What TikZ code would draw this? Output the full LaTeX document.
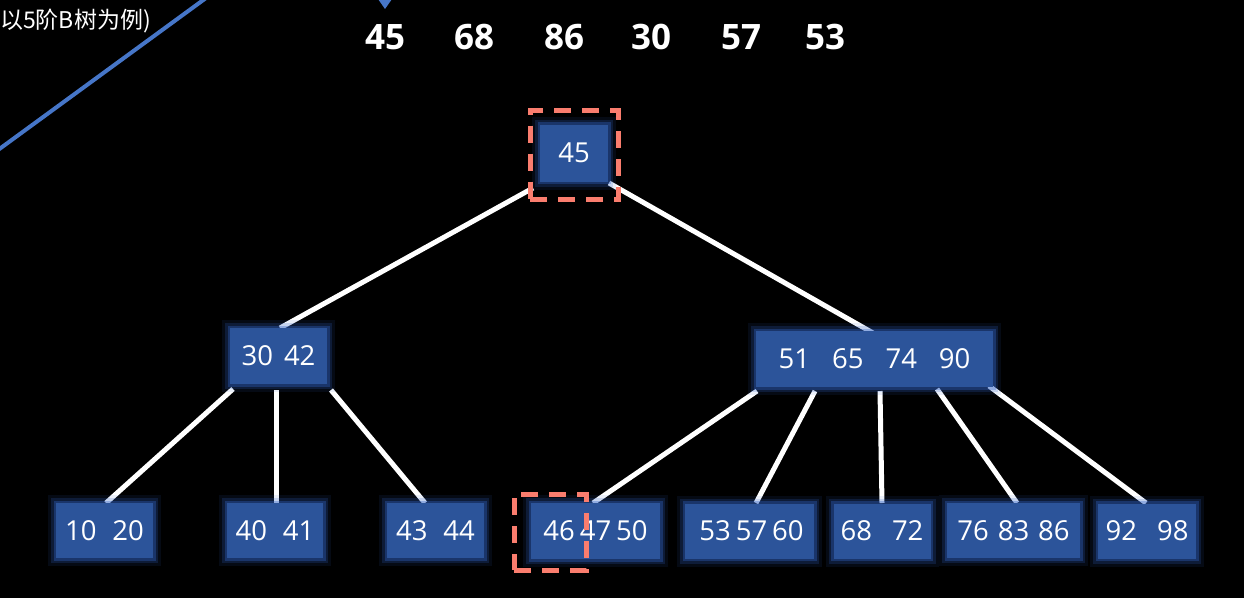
\documentclass[tikz,border=0pt]{standalone}
\usepackage{fontspec}
\setmainfont{Open Sans}
\newfontfamily\cjk{Noto Sans CJK SC}
\usetikzlibrary{calc}
\definecolor{keyfill}{RGB}{44,84,154}
\definecolor{halo}{RGB}{50,100,200}
\definecolor{mark}{RGB}{250,125,110}
\definecolor{rule}{RGB}{70,118,200}
\tikzset{
  keybox/.style={fill=keyfill, text=white, inner sep=0pt, anchor=center,
    font=\fontsize{27.5}{30}\selectfont,
    preaction={draw=halo, line width=16pt, opacity=0.10},
    preaction={draw=halo, line width=10pt, opacity=0.20},
    preaction={draw=halo, line width=5pt, opacity=0.35}},
  link/.style={draw=white, line width=5pt},
  focus/.style={draw=mark, line width=5pt, dash pattern=on 17pt off 11pt},
  seq/.style={text=white, font=\bfseries\fontsize{35}{40}\selectfont, anchor=center}
}
\begin{document}
\begin{tikzpicture}[x=1pt,y=-1pt]
\useasboundingbox[fill=black] (0,0) rectangle (1244,598);

% heading fragment and separator line
\node[text=white, anchor=west, inner sep=0pt, font=\cjk\fontsize{23}{26}\selectfont] (title) at (0,21) {以5阶B树为例)};
\coordinate (ra) at (-2,150);
\coordinate (rb) at (206,-2);
\draw[rule, line width=4pt] (ra) -- (rb);

% insertion sequence
\node[seq] (s1) at (385,37) {45};
\node[seq] (s2) at (474,37) {68};
\node[seq] (s3) at (564,37) {86};
\node[seq] (s4) at (651,37) {30};
\node[seq] (s5) at (741,37) {57};
\node[seq] (s6) at (825,37) {53};
\coordinate (t1) at (378,-1);
\coordinate (t2) at (392,-1);
\coordinate (t3) at (385,9);
\fill[rule] (t1) -- (t2) -- (t3) -- cycle;

% tree edges (drawn under the boxes)
\coordinate (rootA) at (533,188);
\coordinate (rootB) at (609,183);
\draw[link] (rootA) -- (280,328);
\draw[link] (rootB) -- (873,333);
\draw[link] (233,389) -- (106,503);
\draw[link] (276,390) -- (276,503);
\draw[link] (331,390) -- (425,503);
\draw[link] (757,391) -- (593,503);
\draw[link] (815,391) -- (756,503);
\draw[link] (880,391) -- (882,503);
\draw[link] (937,389) -- (1017,503);
\draw[link] (989,386) -- (1146,503);

% nodes
\node[keybox, minimum width=68pt, minimum height=57pt] (root) at (574,153) {45};
\node[keybox, minimum width=97pt, minimum height=56pt] (l) at (278.5,356) {30\hspace{11pt}42};
\node[keybox, minimum width=237pt, minimum height=56pt] (r) at (874.5,359) {51\hspace{22pt}65\hspace{22pt}74\hspace{22pt}90};

\node[keybox, minimum width=97pt, minimum height=55pt] (c1) at (104.5,530.5) {10\hspace{16pt}20};
\node[keybox, minimum width=96pt, minimum height=55pt] (c2) at (275,530.5) {40\hspace{16pt}41};
\node[keybox, minimum width=97pt, minimum height=55pt] (c3) at (435.5,530.5) {43\hspace{16pt}44};
\node[keybox, minimum width=129pt, minimum height=56pt] (c4) at (595.5,531) {46\hspace{5pt}47\hspace{5pt}50};
\node[keybox, minimum width=129pt, minimum height=55pt] (c5) at (749.5,531) {\hspace{4pt}53\hspace{5pt}57\hspace{5pt}60};
\node[keybox, minimum width=97pt, minimum height=55pt] (c6) at (882,531) {68\hspace{20pt}72};
\node[keybox, minimum width=133pt, minimum height=55pt] (c7) at (1013.5,530.5) {76\hspace{9pt}83\hspace{9pt}86};
\node[keybox, minimum width=98pt, minimum height=55pt] (c8) at (1147,531) {92\hspace{20pt}98};

% highlight frames
\node[focus, minimum width=88pt, minimum height=89pt, inner sep=0pt] (hr) at (574,155) {};
\node[focus, minimum width=72pt, minimum height=76pt, inner sep=0pt] (hl) at (550,532) {};
\end{tikzpicture}
\end{document}
